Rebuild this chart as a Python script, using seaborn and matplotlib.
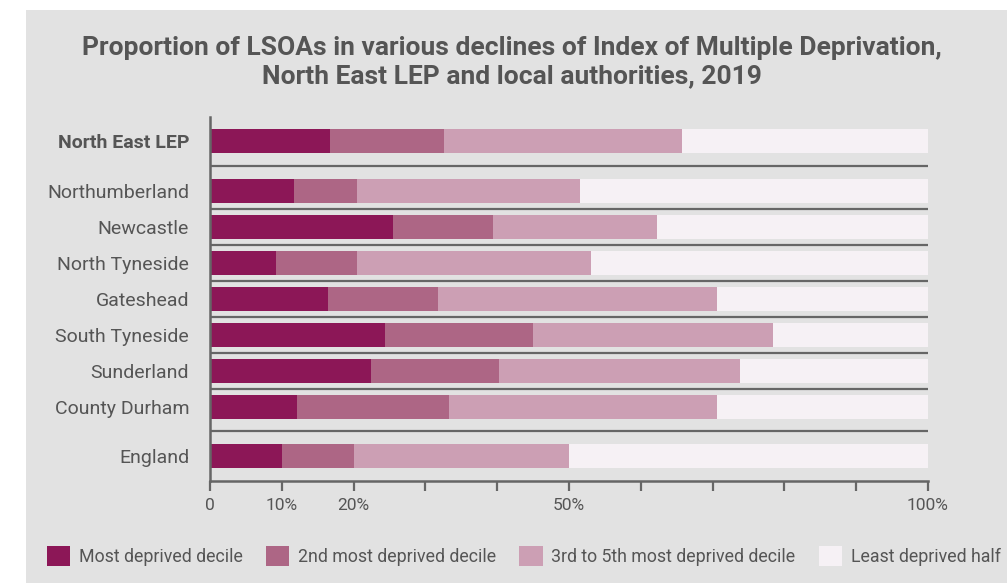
import numpy as np
import pandas as pd
import matplotlib
matplotlib.use("Agg")
import matplotlib.pyplot as plt
from matplotlib.patches import Rectangle, Patch
import seaborn as sns

# datos (% de LSOAs en cada grupo)
areas = ["North East LEP", "Northumberland", "Newcastle", "North Tyneside",
         "Gateshead", "South Tyneside", "Sunderland", "County Durham", "England"]
most_deprived = [16.7, 11.7, 25.5, 9.2, 16.4, 24.4, 22.4, 12.1, 10.0]
second_deprived = [15.9, 8.8, 13.9, 11.3, 15.4, 20.6, 17.9, 21.2, 10.0]
third_to_fifth = [33.2, 31.1, 22.9, 32.6, 38.8, 33.4, 33.5, 37.3, 30.0]
least_half = [34.2, 48.4, 37.7, 46.9, 29.4, 21.6, 26.2, 29.4, 50.0]

series_names = ["Most deprived decile", "2nd most deprived decile",
                "3rd to 5th most deprived decile", "Least deprived half"]
tick_values = [0, 10, 20, 30, 40, 50, 60, 70, 80, 90, 100]
tick_labels = ["0", "10%", "20%", "", "", "50%", "", "", "", "", "100%"]

# posiciones verticales (hueco extra antes y despues de los distritos)
row_pos = [0, 1.38, 2.38, 3.38, 4.38, 5.38, 6.38, 7.38, 8.75]

colores = ["#8c1757", "#ad6685", "#cc9fb4", "#f6f1f5"]
bg = "#e2e2e2"
txt = "#555555"
linea = "#666666"

plt.rcParams["font.family"] = ["Roboto", "DejaVu Sans"]

df = pd.DataFrame({
    "area": areas,
    "pos": row_pos,
    "most": most_deprived,
    "second": second_deprived,
    "third": third_to_fifth,
    "least": least_half,
})
# acumulados para apilar (se dibuja del mas largo al mas corto)
df["c1"] = df["most"]
df["c2"] = df["c1"] + df["second"]
df["c3"] = df["c2"] + df["third"]
df["c4"] = df["c3"] + df["least"]

fig = plt.figure(figsize=(10.07, 5.83), dpi=100)
fig.patch.set_facecolor("white")
fondo = Rectangle((26 / 1007, 0), 1 - 26 / 1007, 573 / 583,
                  transform=fig.transFigure, facecolor=bg,
                  edgecolor="none", zorder=-10)
fig.add_artist(fondo)

ax = fig.add_axes([210 / 1007, 1 - 481 / 583, 718 / 1007, 364 / 583])
ax.set_zorder(1)
ax.patch.set_alpha(0)

for col, c in zip(["c4", "c3", "c2", "c1"], colores[::-1]):
    sns.barplot(data=df, x=col, y="pos", orient="y", native_scale=True,
                color=c, width=0.667, saturation=1, errorbar=None,
                linewidth=0, ax=ax, zorder=2)

# lineas separadoras entre filas
seps = [(row_pos[i] + row_pos[i + 1]) / 2 for i in range(len(row_pos) - 1)]
for s in seps:
    ax.plot([0, 100], [s, s], color=linea, lw=1.6, zorder=3,
            solid_capstyle="butt")

ax.set_xlim(0, 100)
ax.set_ylim(9.444, -0.667)
ax.set_xlabel("")
ax.set_ylabel("")

ax.set_xticks(tick_values)
ax.set_xticklabels(tick_labels)
ax.set_yticks(row_pos)
ax.set_yticklabels(areas)
ax.tick_params(axis="x", direction="out", length=7.5, width=1.6, color=linea,
               labelsize=12.5, labelcolor=txt, pad=5)
ax.tick_params(axis="y", length=0, labelsize=14, labelcolor=txt, pad=15)
ax.get_yticklabels()[0].set_fontweight("bold")

for side in ["top", "right"]:
    ax.spines[side].set_visible(False)
for side in ["left", "bottom"]:
    ax.spines[side].set_color(linea)
    ax.spines[side].set_linewidth(1.8)

fig.text(512 / 1007, 1 - 62 / 583,
         "Proportion of LSOAs in various declines of Index of Multiple Deprivation,\n"
         "North East LEP and local authorities, 2019",
         ha="center", va="center", fontsize=19, fontweight="bold", color=txt,
         linespacing=1.2)

handles = [Patch(facecolor=c, edgecolor="none", label=n)
           for c, n in zip(colores, series_names)]
fig.legend(handles=handles, loc="center", bbox_to_anchor=(524 / 1007, 1 - 556 / 583),
           ncol=4, frameon=False, fontsize=12.8, labelcolor=txt,
           handlelength=1.3, handleheight=1.3, handletextpad=0.5,
           columnspacing=1.3)

fig.savefig("out.png", dpi=100, facecolor=fig.get_facecolor())
